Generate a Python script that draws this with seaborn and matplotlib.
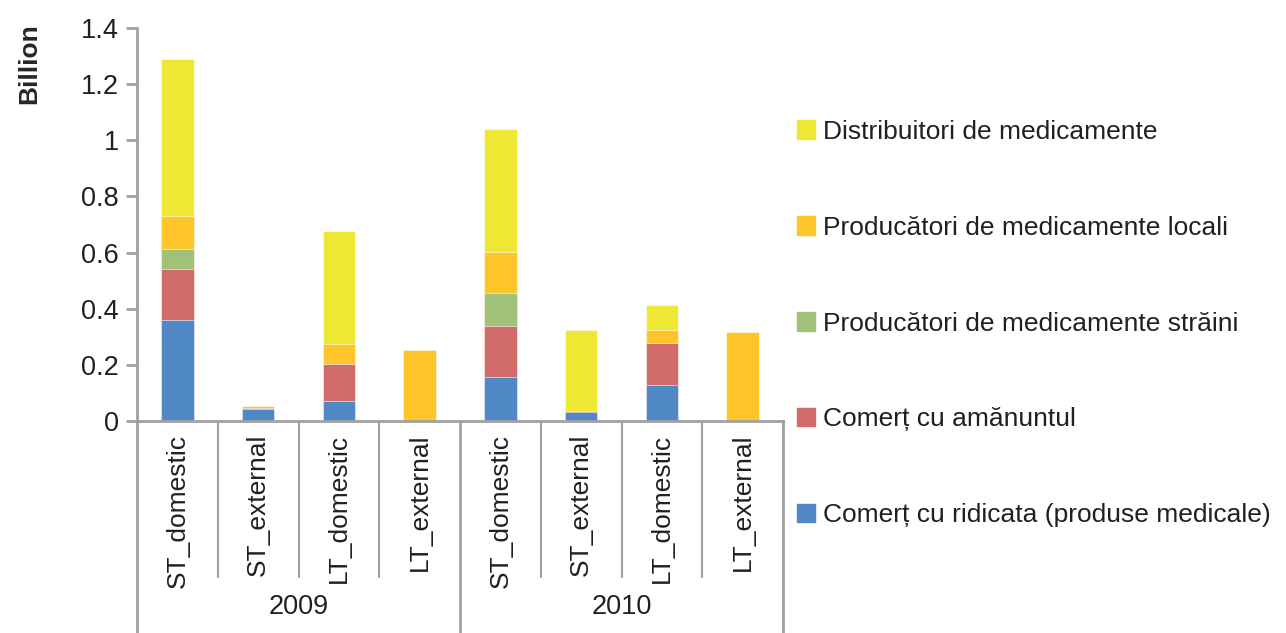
import numpy as np
import pandas as pd
import matplotlib
matplotlib.use("Agg")
import matplotlib.pyplot as plt
import matplotlib.patches as mpatches
import seaborn as sns

years = ["2009", "2010"]
kinds = ["ST_domestic", "ST_external", "LT_domestic", "LT_external"]

# values per bar, in order 2009 (4 bars) then 2010 (4 bars), billions
ridicata = [0.361, 0.043, 0.070, 0.0, 0.157, 0.031, 0.129, 0.0]
amanuntul = [0.182, 0.003, 0.134, 0.0, 0.181, 0.003, 0.148, 0.0]
straini = [0.070, 0.0, 0.0, 0.0, 0.119, 0.0, 0.0, 0.0]
locali = [0.118, 0.007, 0.069, 0.253, 0.146, 0.0, 0.048, 0.316]
distribuitori = [0.559, 0.0, 0.403, 0.0, 0.438, 0.290, 0.087, 0.0]

series = [
    ("Comerț cu ridicata (produse medicale)", ridicata, "#5088C6"),
    ("Comerț cu amănuntul", amanuntul, "#D16B69"),
    ("Producători de medicamente străini", straini, "#A2C178"),
    ("Producători de medicamente locali", locali, "#FEC52A"),
    ("Distribuitori de medicamente", distribuitori, "#EEE734"),
]

keys = [f"{y}|{k}" for y in years for k in kinds]
labels = [k for y in years for k in kinds]

sns.set_style("white")
plt.rcParams["font.family"] = ["Liberation Sans", "DejaVu Sans"]
plt.rcParams["text.color"] = "#231F20"
plt.rcParams["xtick.color"] = "#231F20"
plt.rcParams["ytick.color"] = "#231F20"

fig = plt.figure(figsize=(12.86, 6.33), dpi=100)
ax = fig.add_axes([137 / 1286, 1 - 421 / 633, 646 / 1286, 393 / 633])

# stacked bars: draw cumulative tops from the highest layer down
cum = np.cumsum(np.array([s[1] for s in series]), axis=0)
for i in range(len(series) - 1, -1, -1):
    df = pd.DataFrame({"key": keys, "top": cum[i]})
    sns.barplot(data=df, x="key", y="top", order=keys, color=series[i][2],
                width=0.4, saturation=1, ax=ax, edgecolor="white", linewidth=0.4)

ax.set_xlim(-0.5, 7.5)
ax.set_ylim(0, 1.4)
ax.set_yticks(np.arange(0, 1.41, 0.2))
ax.set_yticklabels(["0", "0.2", "0.4", "0.6", "0.8", "1", "1.2", "1.4"])
ax.set_xticks(range(8))
ax.set_xticklabels(labels, rotation=90, va="top")
ax.set_xlabel("")
ax.set_ylabel("Billion", fontsize=19, fontweight="bold")
ax.yaxis.set_label_coords(-0.148, 0.91)

gray = "#A0A0A0"
for s in ["top", "right"]:
    ax.spines[s].set_visible(False)
for s in ["left", "bottom"]:
    ax.spines[s].set_color(gray)
    ax.spines[s].set_linewidth(2)
ax.tick_params(axis="y", length=8, width=2, color=gray, labelcolor="#231F20",
               labelsize=19.5, pad=5, left=True, direction="out")
ax.tick_params(axis="x", length=0, labelsize=19, pad=9)
ax.grid(False)

# category separators below the axis
bottom = -(633 - 421) / 393
inner = -(577 - 421) / 393
trans = ax.get_xaxis_transform()
for xb in [0.5, 1.5, 2.5, 4.5, 5.5, 6.5]:
    ax.plot([xb, xb], [0, inner], color=gray, lw=1.5, transform=trans, clip_on=False)
for xb in [-0.5, 3.5, 7.5]:
    ax.plot([xb, xb], [0, bottom], color=gray, lw=2, transform=trans, clip_on=False)
for j, y in enumerate(years):
    ax.text(1.5 + 4 * j, -(607 - 421) / 393, y, transform=trans, ha="center",
            va="center", fontsize=19.5)

handles = [mpatches.Patch(color=c, label=n) for n, v, c in series][::-1]
fig.legend(handles=handles, loc="upper left", bbox_to_anchor=(0.601, 0.848),
           frameon=False, fontsize=19, handlelength=0.7, handleheight=0.7,
           handletextpad=0.3, labelspacing=2.72)

fig.savefig("out.png", dpi=100)
